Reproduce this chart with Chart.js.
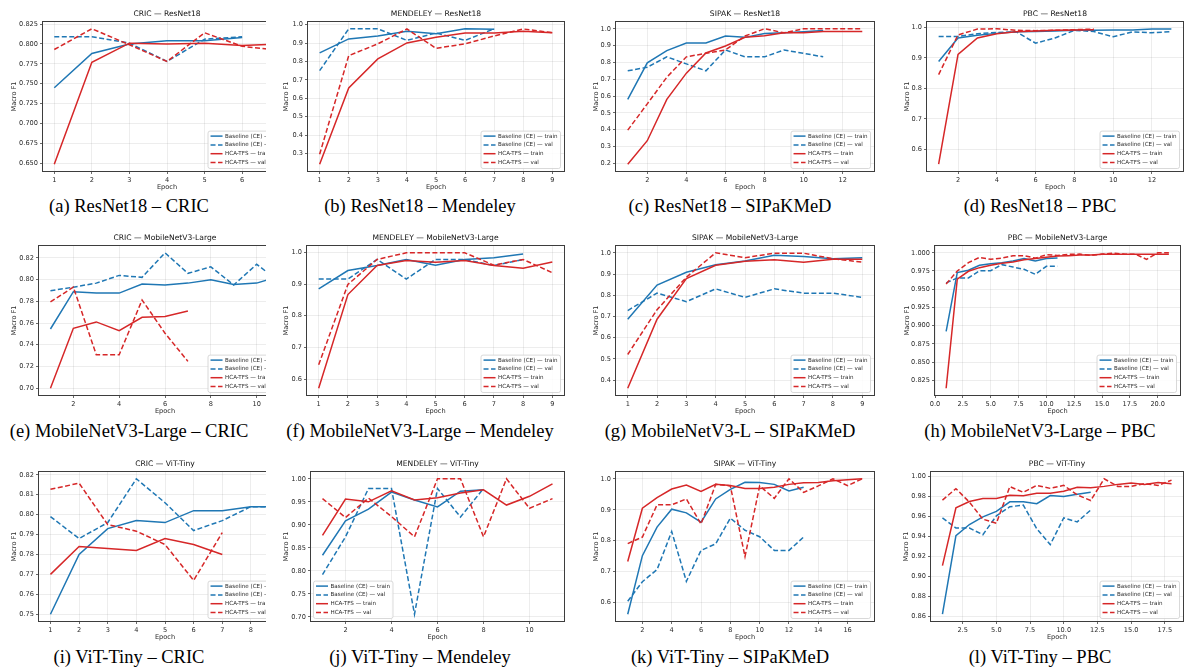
<!DOCTYPE html>
<html><head><meta charset="utf-8">
<script src="https://cdn.jsdelivr.net/npm/chart.js@4.4.1/dist/chart.umd.min.js"></script>
<style>
html,body{margin:0;padding:0;background:#fff;}
body{width:1184px;height:670px;position:relative;overflow:hidden;}
.panel{position:absolute;overflow:hidden;}
.panel canvas{position:absolute;left:0;top:0;}
.cap{position:absolute;font-family:"Liberation Serif","Times New Roman",serif;font-size:18.5px;color:#000;white-space:nowrap;transform:translate(-50%,-50%);line-height:1.15;}
</style></head><body>
<script>
// ---------------- DATA ----------------
const seriesLabels = ['Baseline (CE) — train','Baseline (CE) — val','HCA-TFS — train','HCA-TFS — val'];
const panelTitles = ['CRIC — ResNet18','MENDELEY — ResNet18','SIPAK — ResNet18','PBC — ResNet18',
  'CRIC — MobileNetV3-Large','MENDELEY — MobileNetV3-Large','SIPAK — MobileNetV3-Large','PBC — MobileNetV3-Large',
  'CRIC — ViT-Tiny','MENDELEY — ViT-Tiny','SIPAK — ViT-Tiny','PBC — ViT-Tiny'];
const captions = ['(a) ResNet18 – CRIC','(b) ResNet18 – Mendeley','(c) ResNet18 – SIPaKMeD','(d) ResNet18 – PBC',
  '(e) MobileNetV3-Large – CRIC','(f) MobileNetV3-Large – Mendeley','(g) MobileNetV3-L – SIPaKMeD','(h) MobileNetV3-Large – PBC',
  '(i) ViT-Tiny – CRIC','(j) ViT-Tiny – Mendeley','(k) ViT-Tiny – SIPaKMeD','(l) ViT-Tiny – PBC'];
const xLabel = 'Epoch';
const yLabel = 'Macro F1';
const xTickSteps = [1,1,2,2, 2,1,1,2.5, 1,2,2,2.5];
const xTickDecimals = [0,0,0,0, 0,0,0,1, 0,0,0,1];
const yTickSteps = [0.025,0.1,0.1,0.1, 0.02,0.1,0.1,0.025, 0.01,0.05,0.1,0.02];
const yTickDecimals = [3,1,1,1, 2,1,1,3, 2,2,1,2];
const legendSides = ['right','right','right','right','right','right','right','right','right','left','right','right'];

// (a) ResNet18 - CRIC
const A_bt = [0.745,0.788,0.800,0.804,0.804,0.808];
const A_bv = [0.809,0.809,0.801,0.778,0.806,0.809];
const A_ht = [0.649,0.777,0.801,0.800,0.801,0.798,0.800];
const A_hv = [0.793,0.819,0.799,0.778,0.814,0.797,0.792];
// (b) ResNet18 - Mendeley
const B_bt = [0.847,0.923,0.939,0.964,0.951,0.978,0.975];
const B_bv = [0.750,0.978,0.978,0.915,0.955,0.915,0.978];
const B_ht = [0.241,0.656,0.814,0.901,0.932,0.955,0.955,0.964,0.957];
const B_hv = [0.295,0.832,0.896,0.977,0.872,0.896,0.939,0.977,0.957];
// (c) ResNet18 - SIPaKMeD
const C_bt = [0.580,0.797,0.870,0.915,0.915,0.957,0.949,0.972,0.976,0.982,0.990];
const C_bv = [0.750,0.771,0.833,0.791,0.750,0.874,0.833,0.833,0.874,0.854,0.833];
const C_ht = [0.194,0.334,0.580,0.736,0.856,0.898,0.949,0.959,0.976,0.976,0.984,0.984,0.984];
const C_hv = [0.397,0.553,0.712,0.833,0.854,0.874,0.957,1.000,0.976,1.000,1.000,1.000,1.000];
// (d) ResNet18 - PBC
const D_bt = [0.888,0.965,0.974,0.980,0.985,0.986,0.988,0.990,0.990,0.991,0.991,0.994,0.994];
const D_bv = [0.970,0.970,0.979,0.983,0.985,0.948,0.965,0.990,0.986,0.969,0.985,0.982,0.986];
const D_ht = [0.552,0.911,0.965,0.979,0.985,0.988,0.990,0.991,0.992];
const D_hv = [0.845,0.975,0.994,0.995,0.990,0.989,0.990,0.992,0.994];
// (e) MobileNetV3-Large - CRIC
const E_bt = [0.7545,0.7888,0.7875,0.7875,0.7958,0.7949,0.7967,0.7998,0.7955,0.7967,0.8030];
const E_bv = [0.7897,0.7930,0.7967,0.8038,0.8020,0.8246,0.8057,0.8117,0.7950,0.8140,0.7980];
const E_ht = [0.7000,0.7551,0.7610,0.7530,0.7652,0.7660,0.7710];
const E_hv = [0.7794,0.7930,0.7308,0.7308,0.7812,0.7506,0.7247];
// (f) MobileNetV3-Large - Mendeley
const F_bt = [0.885,0.943,0.959,0.978,0.960,0.978,0.983,0.995];
const F_bv = [0.916,0.916,0.978,0.916,0.978,0.978,0.959,0.978];
const F_ht = [0.571,0.867,0.959,0.975,0.969,0.975,0.959,0.950,0.970];
const F_hv = [0.645,0.899,0.978,0.999,0.999,0.999,0.960,0.978,0.936];
// (g) MobileNetV3-L - SIPaKMeD
const G_bt = [0.687,0.848,0.908,0.944,0.961,0.988,0.983,0.972,0.977];
const G_bv = [0.728,0.810,0.770,0.830,0.790,0.830,0.810,0.810,0.790];
const G_ht = [0.362,0.687,0.879,0.941,0.960,0.967,0.955,0.969,0.969];
const G_hv = [0.521,0.732,0.885,1.000,0.977,0.998,0.998,0.972,0.956];
// (h) MobileNetV3-Large - PBC
const H_bt = [0.8920,0.9728,0.9760,0.9828,0.9850,0.9864,0.9887,0.9920,0.9887,0.9920,0.9927];
const H_bv = [0.9587,0.9655,0.9655,0.9755,0.9755,0.9837,0.9805,0.9773,0.9705,0.9814,0.9814];
const H_ht = [0.8140,0.9637,0.9746,0.9796,0.9828,0.9855,0.9873,0.9905,0.9920,0.9940,0.9955,0.9960,0.9968,0.9970,0.9980,0.9980,0.9980,0.9980,0.9980,0.9980,0.9980];
const H_hv = [0.9570,0.9750,0.9864,0.9937,0.9910,0.9927,0.9960,0.9960,0.9927,0.9973,0.9964,0.9980,0.9982,0.9964,0.9982,0.9995,0.9982,0.9980,0.9910,1.0000,1.0000];
// (i) ViT-Tiny - CRIC
const I_bt = [0.750,0.780,0.793,0.797,0.796,0.802,0.802,0.804,0.804];
const I_bv = [0.799,0.788,0.796,0.818,0.806,0.792,0.797,0.804,0.804];
const I_ht = [0.770,0.784,0.783,0.782,0.788,0.785,0.780];
const I_hv = [0.8127,0.8158,0.7950,0.7917,0.7850,0.7670,0.7910];
// (j) ViT-Tiny - Mendeley
const J_bt = [0.834,0.909,0.934,0.971,0.954,0.939,0.973,0.976];
const J_bv = [0.792,0.874,0.979,0.979,0.706,0.979,0.917,0.979];
const J_ht = [0.877,0.956,0.950,0.974,0.954,0.959,0.969,0.976,0.943,0.962,0.989];
const J_hv = [0.957,0.916,0.958,0.918,0.874,1.000,1.000,0.874,1.000,0.936,0.957];
// (k) ViT-Tiny - SIPaKMeD
const K_bt = [0.563,0.752,0.844,0.902,0.890,0.860,0.935,0.966,0.989,0.988,0.982,0.961,0.973];
const K_bv = [0.605,0.668,0.707,0.830,0.669,0.769,0.790,0.873,0.834,0.813,0.769,0.769,0.812];
const K_ht = [0.733,0.905,0.939,0.967,0.980,0.959,0.982,0.978,0.969,0.969,0.973,0.982,0.987,0.988,0.994,0.997,1.000];
const K_hv = [0.791,0.812,0.916,0.916,0.935,0.854,0.982,0.977,0.749,0.977,0.937,1.000,0.956,0.977,1.000,0.978,1.000];
// (l) ViT-Tiny - PBC
const L_bt = [0.8620,0.9407,0.9519,0.9595,0.9650,0.9746,0.9746,0.9727,0.9809,0.9799,0.9822,0.9842];
const L_bv = [0.9585,0.9483,0.9483,0.9417,0.9605,0.9697,0.9713,0.9476,0.9318,0.9585,0.9545,0.9664];
const L_ht = [0.9107,0.9687,0.9750,0.9780,0.9780,0.9812,0.9806,0.9832,0.9832,0.9852,0.9891,0.9888,0.9901,0.9921,0.9934,0.9921,0.9940,0.9928];
const L_hv = [0.9763,0.9878,0.9743,0.9572,0.9532,0.9898,0.9842,0.9911,0.9881,0.9911,0.9816,0.9759,0.9977,0.9901,0.9901,0.9928,0.9911,0.9964];

const panelSeries = [
  [A_bt,A_bv,A_ht,A_hv],[B_bt,B_bv,B_ht,B_hv],[C_bt,C_bv,C_ht,C_hv],[D_bt,D_bv,D_ht,D_hv],
  [E_bt,E_bv,E_ht,E_hv],[F_bt,F_bv,F_ht,F_hv],[G_bt,G_bv,G_ht,G_hv],[H_bt,H_bv,H_ht,H_hv],
  [I_bt,I_bv,I_ht,I_hv],[J_bt,J_bv,J_ht,J_hv],[K_bt,K_bv,K_ht,K_hv],[L_bt,L_bv,L_ht,L_hv]
];

// ---------------- LAYOUT / STYLE ----------------
const rowTops = [0, 224, 450];
const captionY = [207, 432, 658];
const captionX = [129, 420, 730, 1040];
// ylab: centre of y-axis title; plotL/plotR: plot box edges; clip: visible right edge
const panelLayout = [
  {ylab:14, plotL:43, plotR:291, clip:266},
  {ylab:286, plotL:308, plotR:564},
  {ylab:596, plotL:616, plotR:874},
  {ylab:907, plotL:927, plotR:1183},
  {ylab:14, plotL:39, plotR:291, clip:266},
  {ylab:286, plotL:307, plotR:564},
  {ylab:596, plotL:616, plotR:874},
  {ylab:907, plotL:935, plotR:1180},
  {ylab:14, plotL:39, plotR:291, clip:266},
  {ylab:286, plotL:311, plotR:564},
  {ylab:596, plotL:616, plotR:874},
  {ylab:906, plotL:931, plotR:1183}
];
const FONT = "'DejaVu Sans', 'Liberation Sans', sans-serif";
const lineColors = ['#1f77b4','#1f77b4','#d62728','#d62728'];
const lineDashes = [[],[5,2.5],[],[5,2.5]];
const drawOrder = [3,2,1,0];

const framePlugin = {
  id:'frame',
  afterDatasetsDraw(chart){
    const ctx = chart.ctx, a = chart.chartArea;
    ctx.save();
    ctx.strokeStyle = '#3d3d3d';
    ctx.lineWidth = 1;
    ctx.strokeRect(Math.round(a.left)-0.5, Math.round(a.top)-0.5, Math.round(a.right-a.left)+1, Math.round(a.bottom-a.top)+1);
    ctx.restore();
  }
};
const innerLegendPlugin = {
  id:'innerLegend',
  afterDraw(chart, args, opts){
    const ctx = chart.ctx, a = chart.chartArea;
    const fs = 5.6;
    ctx.save();
    ctx.font = fs + 'px ' + FONT;
    const ds = chart.data.datasets;
    const tw = Math.max(...ds.map(d => ctx.measureText(d.label).width));
    const rowH = 8.8;
    const bw = 17 + tw + 3;
    const bh = 5 + 3*rowH + 6;
    const x = opts.side === 'left' ? a.left + 2.5 : a.right - 3.5 - bw;
    const y = a.bottom - 2.5 - bh;
    ctx.beginPath();
    ctx.roundRect(x, y, bw, bh, 2);
    ctx.fillStyle = 'rgba(255,255,255,0.85)';
    ctx.fill();
    ctx.strokeStyle = '#cfcfcf';
    ctx.lineWidth = 0.8;
    ctx.stroke();
    ds.forEach((d, k) => {
      const cy = y + 5 + k*rowH;
      ctx.strokeStyle = d.borderColor;
      ctx.lineWidth = d.borderWidth;
      ctx.setLineDash(d.borderDash);
      ctx.beginPath();
      ctx.moveTo(x + 2.5, cy);
      ctx.lineTo(x + 14.5, cy);
      ctx.stroke();
      ctx.setLineDash([]);
      ctx.fillStyle = '#2b2b2b';
      ctx.textBaseline = 'middle';
      ctx.textAlign = 'left';
      ctx.fillText(d.label, x + 17, cy);
    });
    ctx.restore();
  }
};

function extent(arrs){
  let mn = Infinity, mx = -Infinity;
  arrs.forEach(a => a.forEach(v => { mn = Math.min(mn, v); mx = Math.max(mx, v); }));
  return [mn, mx];
}

function makePanel(i){
  const L = panelLayout[i];
  const row = Math.floor(i/4), col = i % 4;
  const top = rowTops[row];
  const canvasLeft = L.ylab - 6;
  const padL = 2, padR = 4;
  const W = L.plotR - canvasLeft + padR;
  const H = 195;
  const div = document.createElement('div');
  div.className = 'panel';
  div.style.left = canvasLeft + 'px';
  div.style.top = top + 'px';
  div.style.width = ((L.clip ? L.clip : L.plotR + padR) - canvasLeft) + 'px';
  div.style.height = H + 'px';
  const cv = document.createElement('canvas');
  cv.width = W; cv.height = H;
  cv.style.width = W + 'px'; cv.style.height = H + 'px';
  div.appendChild(cv);
  document.body.appendChild(div);

  const series = panelSeries[i];
  const nMax = Math.max(...series.map(s => s.length));
  const xm = 0.05*(nMax - 1);
  const [ymn, ymx] = extent(series);
  const ym = 0.05*(ymx - ymn);
  const yAxisW = L.plotL - (canvasLeft + padL);
  const tickFont = {family: FONT, size: 6.6};
  const grid = {color: 'rgba(0,0,0,0.09)', lineWidth: 0.8, tickLength: 3, tickColor: '#444', drawTicks: true};

  new Chart(cv, {
    type: 'line',
    data: {
      datasets: series.map((arr, k) => ({
        label: seriesLabels[k],
        data: arr.map((v, j) => ({x: j + 1, y: v})),
        borderColor: lineColors[k],
        backgroundColor: lineColors[k],
        borderWidth: 1.5,
        borderDash: lineDashes[k],
        pointRadius: 0,
        tension: 0,
        fill: false,
        order: drawOrder[k]
      }))
    },
    options: {
      responsive: false,
      animation: false,
      devicePixelRatio: 1,
      layout: {padding: {left: padL, right: padR, top: 0, bottom: 0}},
      plugins: {
        legend: {display: false},
        tooltip: {enabled: false},
        title: {display: true, text: panelTitles[i], fullSize: false, color: '#111',
          font: {family: FONT, size: 7.6, weight: 'normal'}, padding: {top: 9.9, bottom: 3}},
        innerLegend: {side: legendSides[i]}
      },
      scales: {
        x: {
          type: 'linear', min: 1 - xm, max: nMax + xm,
          afterFit: s => { s.height = 24; },
          border: {display: false},
          grid: grid,
          ticks: {stepSize: xTickSteps[i], includeBounds: false, autoSkip: false, maxRotation: 0,
            font: tickFont, color: '#2b2b2b', padding: 2,
            callback: v => Number(v).toFixed(xTickDecimals[i])},
          title: {display: true, text: xLabel, font: tickFont, color: '#2b2b2b', padding: {top: 0, bottom: 4}}
        },
        y: {
          type: 'linear', min: ymn - ym, max: ymx + ym,
          afterFit: s => { s.width = yAxisW; },
          border: {display: false},
          grid: grid,
          ticks: {stepSize: yTickSteps[i], includeBounds: false, autoSkip: false,
            font: tickFont, color: '#2b2b2b', padding: 2,
            callback: v => Number(v).toFixed(yTickDecimals[i])},
          title: {display: true, text: yLabel, font: tickFont, color: '#2b2b2b', padding: {top: 0, bottom: 0}}
        }
      }
    },
    plugins: [framePlugin, innerLegendPlugin]
  });

  const cap = document.createElement('div');
  cap.className = 'cap';
  cap.textContent = captions[i];
  cap.style.left = captionX[col] + 'px';
  cap.style.top = captionY[row] + 'px';
  document.body.appendChild(cap);
}

for (let i = 0; i < 12; i++) makePanel(i);
</script>
</body></html>
